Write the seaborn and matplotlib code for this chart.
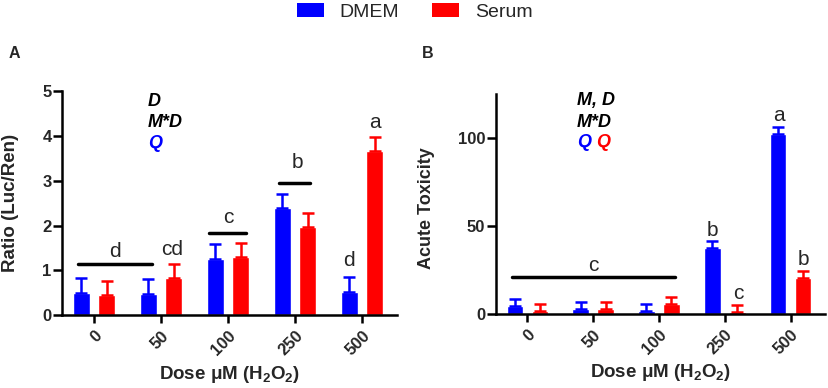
import numpy as np
import pandas as pd
import matplotlib
matplotlib.use("Agg")
import matplotlib.pyplot as plt
import seaborn as sns
from matplotlib.patches import Patch

sns.set_theme(style="ticks")
plt.rcParams['font.family'] = ['Liberation Sans', 'DejaVu Sans']
plt.rcParams['mathtext.default'] = 'regular'

# ----- data -----
doses = ['0', '50', '100', '250', '500']
media = ['DMEM', 'Serum']
colors = {'DMEM': '#0000FF', 'Serum': '#FF0000'}

ratio_dmem = [0.49, 0.48, 1.25, 2.39, 0.52]
ratio_dmem_err = [0.33, 0.32, 0.33, 0.31, 0.33]
ratio_serum = [0.44, 0.82, 1.30, 1.97, 3.67]
ratio_serum_err = [0.32, 0.32, 0.32, 0.31, 0.31]

tox_dmem = [4.4, 3.0, 1.5, 37.3, 102.3]
tox_dmem_err = [4.2, 3.9, 4.0, 4.0, 4.0]
tox_serum = [1.9, 2.5, 5.5, 1.1, 20.2]
tox_serum_err = [4.0, 4.0, 4.0, 3.9, 4.0]


def make_df(dmem, dmem_err, serum, serum_err):
    return pd.DataFrame({
        'dose': doses * 2,
        'medium': ['DMEM'] * 5 + ['Serum'] * 5,
        'value': dmem + serum,
        'err': dmem_err + serum_err,
    })


df_a = make_df(ratio_dmem, ratio_dmem_err, ratio_serum, ratio_serum_err)
df_b = make_df(tox_dmem, tox_dmem_err, tox_serum, tox_serum_err)

fig = plt.figure(figsize=(8.29, 3.88), dpi=100)
ax_a = fig.add_axes([0.0748, 0.188, 0.404, 0.577])
ax_b = fig.add_axes([0.598, 0.191, 0.397, 0.567])

bold = dict(fontweight='bold')


def draw_panel(ax, df, ylim, yticks):
    sns.barplot(data=df, x='dose', y='value', hue='medium', order=doses,
                hue_order=media, palette=colors, width=0.76, gap=0.34,
                errorbar=None, saturation=1, legend=False, ax=ax)
    # upward-only error bars at the bar centres
    for cont, med in zip(ax.containers, media):
        sub = df[df['medium'] == med].set_index('dose').loc[doses]
        xs = [p.get_x() + p.get_width() / 2 for p in cont.patches]
        ax.errorbar(xs, sub['value'], yerr=[np.zeros(len(xs)), sub['err']],
                    fmt='none', ecolor=colors[med], elinewidth=1.8,
                    capsize=4, capthick=1.8)
    ax.set_xlim(-0.48, 4.52)
    ax.set_ylim(*ylim)
    ax.set_yticks(yticks)
    sns.despine(ax=ax)
    for s in ['left', 'bottom']:
        ax.spines[s].set_linewidth(1.8)
        ax.spines[s].set_color('black')
    ax.tick_params(axis='both', width=1.8, length=6, color='black',
                   labelsize=12)
    ax.tick_params(axis='y', length=6.5, pad=1)
    ax.set_xticks(range(len(doses)))
    ax.set_xticklabels(doses, rotation=45, fontweight='bold',
                       ha='right', va='top', rotation_mode='anchor')
    for lab in ax.get_yticklabels():
        lab.set_fontweight('bold')
    ax.set_xlabel('Dose μM (H$_2$O$_2$)', fontsize=13.5, **bold)
    ax.xaxis.set_label_coords(0.5, -(364 - 315) / 224)


draw_panel(ax_a, df_a, (0, 5), [0, 1, 2, 3, 4, 5])
draw_panel(ax_b, df_b, (0, 125), [0, 50, 100])
ax_a.set_ylabel('Ratio (Luc/Ren)', fontsize=13.5, **bold)
ax_a.yaxis.set_label_coords(-(62 - 19) / 335, 0.5)
ax_b.set_ylabel('Acute Toxicity', fontsize=13, **bold)
ax_b.yaxis.set_label_coords(-(496 - 435) / 329, 0.48)

# ----- annotations panel A -----
fs = 15
ax_a.plot([-0.24, 0.87], [1.13, 1.13], color='black', lw=2.5)
ax_a.text(0.31, 1.42, 'd', ha='center', va='center', fontsize=fs)
ax_a.text(1.17, 1.47, 'cd', ha='center', va='center', fontsize=fs)
ax_a.plot([1.72, 2.27], [1.84, 1.84], color='black', lw=2.5)
ax_a.text(2.0, 2.18, 'c', ha='center', va='center', fontsize=fs)
ax_a.plot([2.76, 3.22], [2.95, 2.95], color='black', lw=2.5)
ax_a.text(3.03, 3.4, 'b', ha='center', va='center', fontsize=fs)
ax_a.text(3.8, 1.22, 'd', ha='center', va='center', fontsize=fs)
ax_a.text(4.19, 4.29, 'a', ha='center', va='center', fontsize=fs)

it = dict(fontweight='bold', fontstyle='italic', fontsize=13,
          ha='left', va='center')
ax_a.text(0.8, 4.78, 'D', color='black', **it)
ax_a.text(0.8, 4.3, 'M*D', color='black', **it)
ax_a.text(0.8, 3.83, 'Q', color='#0000FF', **it)

# ----- annotations panel B -----
ax_b.plot([-0.23, 2.25], [21.1, 21.1], color='black', lw=2.5)
ax_b.text(1.0, 27.6, 'c', ha='center', va='center', fontsize=fs)
ax_b.text(2.81, 47.2, 'b', ha='center', va='center', fontsize=fs)
ax_b.text(3.2, 11.4, 'c', ha='center', va='center', fontsize=fs)
ax_b.text(3.82, 113, 'a', ha='center', va='center', fontsize=fs)
ax_b.text(4.2, 31, 'b', ha='center', va='center', fontsize=fs)

ax_b.text(0.75, 121, 'M, D', color='black', **it)
ax_b.text(0.75, 109, 'M*D', color='black', **it)
ax_b.text(0.75, 97.3, 'Q', color='#0000FF', **it)
ax_b.text(1.05, 97.3, 'Q', color='#FF0000', **it)

# panel letters
fig.text(14 / 829, 1 - 53 / 388, 'A', fontsize=11.5, fontweight='bold',
         ha='center', va='center')
fig.text(428 / 829, 1 - 53 / 388, 'B', fontsize=11.5, fontweight='bold',
         ha='center', va='center')

# legend
handles = [Patch(facecolor=colors[m], edgecolor='none') for m in media]
fig.legend(handles, media, loc='center', bbox_to_anchor=(0.5, 1 - 12 / 388),
           ncol=2, frameon=False, fontsize=14, handlelength=1.4,
           handleheight=0.75, handletextpad=0.8, columnspacing=1.7)

fig.savefig('out.png', dpi=100)
